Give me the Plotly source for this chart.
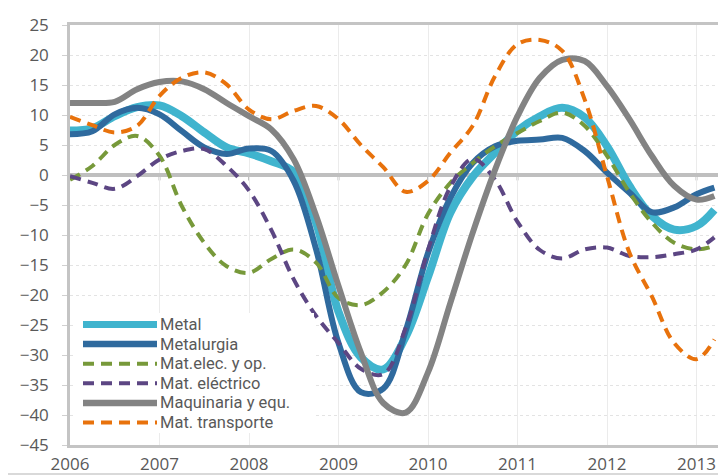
import plotly.graph_objects as go

# quarterly sample points (fractional years), last point ~Mar 2013
periods = [2006.0, 2006.25, 2006.5, 2006.75, 2007.0, 2007.25, 2007.5, 2007.75,
           2008.0, 2008.25, 2008.5, 2008.75, 2009.0, 2009.25, 2009.5, 2009.75,
           2010.0, 2010.25, 2010.5, 2010.75, 2011.0, 2011.25, 2011.5, 2011.75,
           2012.0, 2012.25, 2012.5, 2012.75, 2013.0, 2013.2]

metal = [7.4, 7.8, 9.8, 11.3, 11.6, 9.8, 7.1, 4.6,
         3.6, 2.3, 0.5, -8.0, -22.8, -30.4, -32.4, -27.0,
         -17.0, -6.3, -0.3, 3.7, 7.4, 9.8, 11.2, 9.6,
         4.8, -1.8, -6.8, -9.1, -8.5, -5.8]

metalurgia = [6.8, 7.3, 10.1, 11.2, 10.1, 7.3, 4.6, 3.5,
              4.4, 4.0, -1.0, -12.4, -28.0, -36.2, -35.6, -26.0,
              -13.0, -3.8, 2.0, 4.8, 5.7, 5.9, 6.2, 4.0,
              0.4, -2.9, -6.2, -5.4, -3.2, -2.1]

mat_elec_op = [-0.8, 1.5, 5.0, 6.5, 3.2, -5.2, -11.3, -15.2,
               -16.3, -14.0, -12.4, -14.6, -20.5, -21.7, -19.5, -15.0,
               -6.5, -1.3, 2.0, 4.8, 7.0, 9.0, 10.4, 8.2,
               3.2, -2.9, -7.9, -11.3, -12.4, -11.8]

mat_electrico = [-0.2, -1.3, -2.3, -0.2, 2.6, 4.0, 4.3, 1.5,
                 -2.6, -9.2, -17.4, -23.5, -28.0, -32.3, -33.2, -25.5,
                 -12.5, -2.0, 2.7, -0.8, -7.8, -12.5, -13.9, -12.4,
                 -12.1, -13.5, -13.7, -13.2, -12.4, -10.4]

maquinaria = [12.0, 12.0, 12.2, 14.3, 15.5, 15.6, 14.3, 12.0,
              9.8, 7.6, 2.6, -6.8, -18.5, -29.6, -38.0, -39.6,
              -32.9, -21.3, -9.6, 0.9, 9.8, 16.2, 19.2, 19.0,
              14.8, 9.3, 3.2, -1.8, -4.1, -3.5]

mat_transporte = [9.7, 8.3, 7.1, 8.2, 13.2, 16.2, 17.1, 15.1,
                  10.9, 9.3, 10.7, 11.5, 9.3, 5.0, 1.3, -2.8,
                  -1.0, 3.7, 8.2, 16.5, 21.8, 22.5, 20.7, 12.6,
                  -0.2, -12.9, -20.2, -28.0, -30.7, -27.4]

names = ['Metal', 'Metalurgia', 'Mat.elec. y op.', 'Mat. eléctrico',
         'Maquinaria y equ.', 'Mat. transporte']
year_ticks = [2006, 2007, 2008, 2009, 2010, 2011, 2012, 2013]
y_ticks = [25, 20, 15, 10, 5, 0, -5, -10, -15, -20, -25, -30, -35, -40, -45]

series = [metal, metalurgia, mat_elec_op, mat_electrico, maquinaria, mat_transporte]
styles = [
    dict(color='#40B4CE', width=8, dash='solid'),
    dict(color='#2F6A9E', width=6, dash='solid'),
    dict(color='#77993A', width=4, dash='11px,7px'),
    dict(color='#5C4683', width=4, dash='11px,7px'),
    dict(color='#838383', width=6, dash='solid'),
    dict(color='#E8720C', width=4, dash='11px,7px'),
]

# the page has an 8px body margin, so the figure is drawn 8px smaller
# and offset so the plot area lands where it is in the picture
OFF = 8
PAGE_W, PAGE_H = 726, 475
W, H = PAGE_W - OFF, PAGE_H - OFF
ML, MR, MT, MB = 70 - OFF, 8, 25 - OFF, 30
PW, PH = W - ML - MR, H - MT - MB


def px_x(p):  # page pixel -> paper
    return (p - OFF - ML) / PW


def px_y(p):
    return (MT + PH - (p - OFF)) / PH


fig = go.Figure()
for nm, vals, st in zip(names, series, styles):
    fig.add_trace(go.Scatter(x=periods, y=vals, name=nm, mode='lines',
                             line=dict(shape='spline', smoothing=1.0, **st),
                             showlegend=False, hoverinfo='skip'))

shapes = []
# small tick marks on the zero line at each year
for yr in year_ticks[1:]:
    shapes.append(dict(type='line', xref='x', yref='y', x0=yr, x1=yr, y0=0, y1=-0.9,
                       line=dict(color='#BFBFBF', width=2), layer='below'))

# white box behind the legend
shapes.append(dict(type='rect', xref='paper', yref='paper',
                   x0=px_x(75), x1=px_x(314), y0=px_y(433), y1=px_y(313),
                   fillcolor='white', line=dict(width=0), layer='above'))

annotations = []
leg_y0, leg_step = 324.5, 19.6
for i, (nm, st) in enumerate(zip(names, styles)):
    yy = px_y(leg_y0 + i * leg_step)
    lw = {8: 7, 6: 6.5}.get(st['width'], 4)
    shapes.append(dict(type='line', xref='paper', yref='paper',
                       x0=px_x(83), x1=px_x(157), y0=yy, y1=yy,
                       line=dict(color=st['color'], width=lw, dash=st['dash']),
                       layer='above'))
    annotations.append(dict(xref='paper', yref='paper', x=px_x(159), y=yy,
                            text=nm, showarrow=False, xanchor='left', yanchor='middle',
                            borderpad=0,
                            font=dict(family='Roboto', size=16.5, color='#595959')))

# right and bottom edges of the picture frame
shapes.append(dict(type='line', xref='paper', yref='paper',
                   x0=px_x(725), x1=px_x(725), y0=px_y(474), y1=px_y(0),
                   line=dict(color='#D9D9D9', width=2), layer='above'))
shapes.append(dict(type='line', xref='paper', yref='paper',
                   x0=px_x(0), x1=px_x(726), y0=px_y(474), y1=px_y(474),
                   line=dict(color='#D9D9D9', width=2), layer='above'))

fig.update_layout(
    width=W, height=H,
    margin=dict(l=ML, r=MR, t=MT, b=MB),
    paper_bgcolor='white', plot_bgcolor='white',
    font=dict(family='Open Sans', size=17, color='#595959'),
    shapes=shapes, annotations=annotations,
)
fig.update_xaxes(
    range=[2006, 2006 + PW / 89.5], automargin=False,
    tickmode='array', tickvals=year_ticks, ticktext=[str(y) for y in year_ticks],
    showgrid=True, gridcolor='#EBEBEB', gridwidth=1,
    showline=True, linecolor='#C4C4C4', linewidth=2.5, mirror=True,
    ticks='', zeroline=False, ticklabelstandoff=2,
)
fig.update_yaxes(
    range=[-45, 25], tickmode='array', tickvals=y_ticks, automargin=False,
    showgrid=True, gridcolor='#E3E3E3', gridwidth=1, griddash='dot',
    showline=True, linecolor='#C4C4C4', linewidth=2.5, mirror=True,
    ticks='outside', ticklen=5, tickcolor='#D0D0D0', tickwidth=1,
    zeroline=True, zerolinecolor='#BFBFBF', zerolinewidth=4,
    ticklabelstandoff=10,
)

fig.write_html("out.html")
